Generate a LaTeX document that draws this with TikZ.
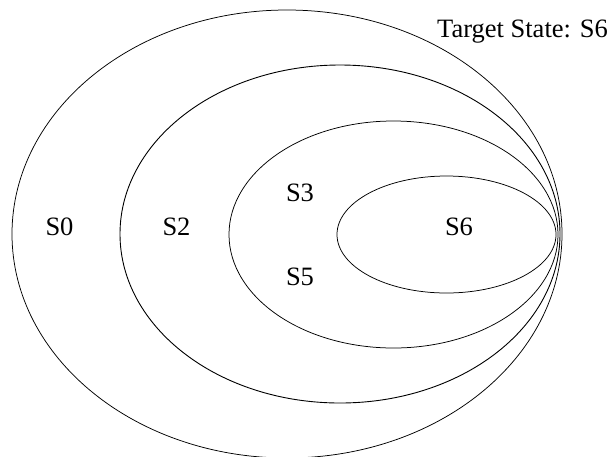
\documentclass[tikz,border=0pt]{standalone}
\usepackage{fontspec}
\setmainfont{Liberation Serif}
\begin{document}
\begin{tikzpicture}[x=1pt,y=-1pt,
  setline/.style={draw=black,line width=0.75pt},
  statelabel/.style={font=\fontsize{26.5}{31}\selectfont,inner sep=0pt}]
\useasboundingbox (0,0) rectangle (613,456);
% nested state sets, all touching on the right
\draw[setline] (287,234) ellipse [x radius=275pt, y radius=224pt];
\draw[setline,line width=0.9pt] (340,234) ellipse [x radius=220pt, y radius=169pt];
\draw[setline] (393.5,234.5) ellipse [x radius=164.5pt, y radius=113.5pt];
\draw[setline] (446.5,234.5) ellipse [x radius=109.5pt, y radius=58.5pt];
% labels
\node[statelabel] (s0) at (59.5,227) {S0};
\node[statelabel] (s2) at (176.5,227) {S2};
\node[statelabel] (s3) at (300,193) {S3};
\node[statelabel] (s5) at (300,277) {S5};
\node[statelabel] (s6) at (459,227) {S6};
\node[statelabel,anchor=base east] (target) at (608,37) {Target State: S6};
\end{tikzpicture}
\end{document}
